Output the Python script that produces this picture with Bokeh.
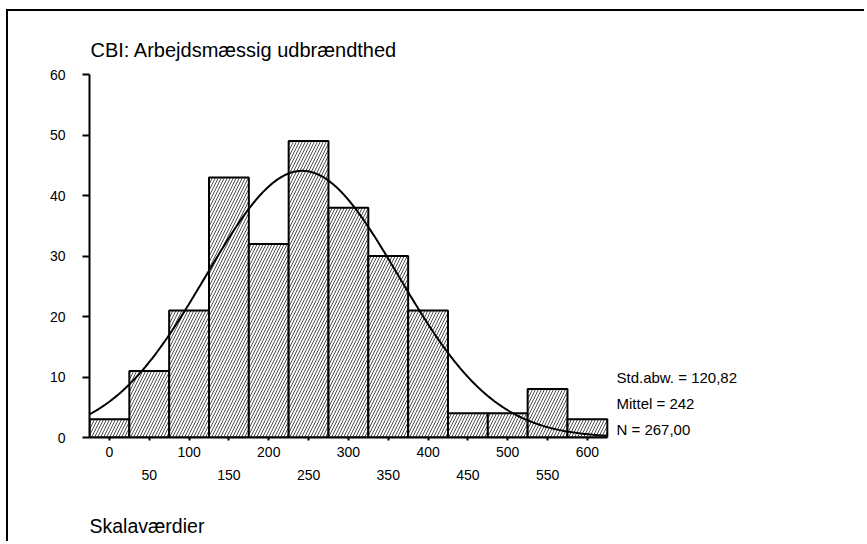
import numpy as np
from bokeh.plotting import figure
from bokeh.models import LinearAxis, FixedTicker, Range1d, Label, Title, ColumnDataSource
from bokeh.embed import file_html
from bokeh.resources import INLINE

# ---- data ----
bin_centers = [0, 50, 100, 150, 200, 250, 300, 350, 400, 450, 500, 550, 600]
counts = [3, 11, 21, 43, 32, 49, 38, 30, 21, 4, 4, 8, 3]
bin_width = 50
std_abw = 120.82
mittel = 242
n_total = 267
x_ticks_row1 = [0, 100, 200, 300, 400, 500, 600]
x_ticks_row2 = [50, 150, 250, 350, 450, 550]
y_ticks = [0, 10, 20, 30, 40, 50, 60]
title_text = "CBI: Arbejdsmæssig udbrændthed"
x_title = "Skalaværdier"
stats_lines = ["Std.abw. = 120,82", "Mittel = 242", "N = 267,00"]

FONT = "Liberation Sans"
W, H = 858, 532
ML, MT, FW, FH = 81, 8, 760, 418

p = figure(width=W, height=H, output_backend="svg", toolbar_location=None,
           x_range=Range1d(-25, 929), y_range=Range1d(0, 69.1),
           x_axis_type=None, y_axis_type=None,
           min_border_left=ML, min_border_right=W - ML - FW,
           min_border_top=MT, min_border_bottom=H - MT - FH)
p.outline_line_color = None
p.background_fill_color = "white"
p.border_fill_color = "white"
p.styles = {"border-left": "2px solid black", "border-top": "2px solid black",
            "margin-left": "6px", "margin-top": "9px"}

lefts = [c - bin_width / 2 for c in bin_centers]
rights = [c + bin_width / 2 for c in bin_centers]
src = ColumnDataSource(dict(left=lefts, right=rights, top=counts, bottom=[0] * len(counts)))
p.quad(left="left", right="right", top="top", bottom="bottom", source=src,
       fill_color="white", line_color="black", line_width=2,
       hatch_pattern="/", hatch_color="black", hatch_weight=0.7, hatch_scale=6)

# fitted normal curve from the displayed statistics
xs = np.linspace(bin_centers[0] - bin_width / 2, bin_centers[-1] + bin_width / 2, 300)
ys = n_total * bin_width / (std_abw * np.sqrt(2 * np.pi)) * np.exp(-0.5 * ((xs - mittel) / std_abw) ** 2)
p.line(xs, ys, line_color="black", line_width=2)

# y axis
yax = LinearAxis(ticker=FixedTicker(ticks=y_ticks, minor_ticks=[]), bounds=(0, 60))
yax.axis_line_width = 2
yax.major_tick_out = 7
yax.major_tick_in = 0
yax.major_tick_line_width = 2
yax.minor_tick_line_color = None
yax.major_label_standoff = 17
yax.major_label_text_font = FONT
yax.major_label_text_font_size = "14px"
yax.major_label_text_color = "black"
p.add_layout(yax, "left")

# x axis row 1
xax1 = LinearAxis(ticker=FixedTicker(ticks=x_ticks_row1, minor_ticks=x_ticks_row2),
                  bounds=(-25, 625))
xax1.axis_line_width = 2
xax1.major_tick_out = 3
xax1.major_tick_in = 0
xax1.minor_tick_out = 3
xax1.minor_tick_in = 0
xax1.major_tick_line_width = 2
xax1.minor_tick_line_width = 2
xax1.major_label_standoff = 6
xax1.major_label_text_font = FONT
xax1.major_label_text_font_size = "14px"
xax1.major_label_text_color = "black"
p.add_layout(xax1, "below")

# x axis row 2 (staggered labels)
xax2 = LinearAxis(ticker=FixedTicker(ticks=x_ticks_row2, minor_ticks=[]), bounds=(-25, 625))
xax2.axis_line_color = None
xax2.major_tick_line_color = None
xax2.minor_tick_line_color = None
xax2.major_tick_out = 0
xax2.major_tick_in = 0
xax2.major_label_standoff = 10
xax2.major_label_text_font = FONT
xax2.major_label_text_font_size = "14px"
xax2.major_label_text_color = "black"
p.add_layout(xax2, "below")

# invisible spacer, then the x axis title, left-aligned with the y axis
p.add_layout(Title(text="\u00a0", text_font_size="2px", standoff=26), "below")
p.add_layout(Title(text=x_title, align="left", text_font=FONT, text_font_size="19.5px",
                   text_font_style="normal", text_color="black", standoff=0), "below")

# texts: screen positions are relative to the frame's bottom-left corner
p.add_layout(Label(x=1, y=388, x_units="screen", y_units="screen",
                   text=title_text, text_font=FONT, text_font_size="20px",
                   text_baseline="alphabetic", text_color="black"))

stat_offsets = [59.7, 34.3, 7.7]
for txt, yb in zip(stats_lines, stat_offsets):
    p.add_layout(Label(x=527, y=yb, x_units="screen", y_units="screen", text=txt,
                       text_font=FONT, text_font_size="15px", text_baseline="alphabetic",
                       text_color="black"))

open("out.html", "w").write(file_html(p, INLINE))
